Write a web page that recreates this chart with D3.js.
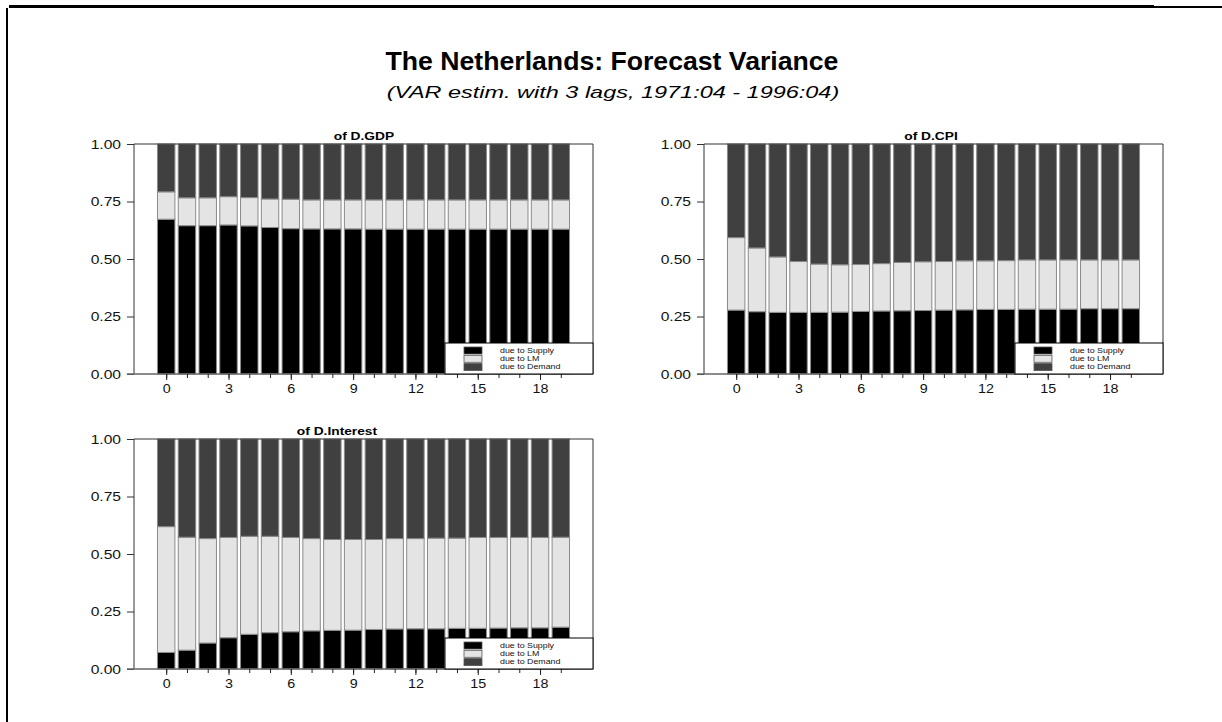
<!DOCTYPE html>
<html><head><meta charset="utf-8">
<script src="https://cdn.jsdelivr.net/npm/d3@7"></script>
<style>body{margin:0;background:#fff;} svg{display:block;font-family:"Liberation Sans",Arial,sans-serif;}</style>
</head><body>
<svg id="c" width="1222" height="722"></svg>
<script>
const horizons = d3.range(0, 20);
const yTicks = [0, 0.25, 0.5, 0.75, 1.0];
const xLabelTicks = [0, 3, 6, 9, 12, 15, 18];
const seriesNames = ["due to Supply", "due to LM", "due to Demand"];
const seriesColors = ["#000000", "#e4e4e4", "#404040"];

const gdpSupply = [0.673,0.645,0.645,0.648,0.644,0.637,0.632,0.631,0.631,0.631,0.630,0.630,0.630,0.630,0.630,0.630,0.630,0.630,0.630,0.630];
const gdpLM     = [0.119,0.121,0.121,0.123,0.123,0.124,0.128,0.126,0.126,0.126,0.127,0.127,0.127,0.127,0.127,0.127,0.127,0.127,0.127,0.127];
const gdpDemand = [0.208,0.234,0.234,0.229,0.233,0.239,0.240,0.243,0.243,0.243,0.243,0.243,0.243,0.243,0.243,0.243,0.243,0.243,0.243,0.243];

const cpiSupply = [0.278,0.271,0.268,0.268,0.268,0.269,0.272,0.274,0.275,0.276,0.278,0.279,0.281,0.281,0.282,0.282,0.282,0.284,0.284,0.284];
const cpiLM     = [0.315,0.277,0.241,0.221,0.210,0.206,0.204,0.206,0.210,0.212,0.211,0.213,0.211,0.212,0.214,0.214,0.214,0.212,0.212,0.212];
const cpiDemand = [0.407,0.452,0.491,0.511,0.522,0.525,0.524,0.520,0.515,0.512,0.511,0.508,0.508,0.507,0.504,0.504,0.504,0.504,0.504,0.504];

const intSupply = [0.072,0.082,0.113,0.136,0.151,0.158,0.162,0.166,0.168,0.169,0.172,0.174,0.175,0.175,0.177,0.177,0.178,0.179,0.179,0.182];
const intLM     = [0.547,0.491,0.454,0.436,0.426,0.419,0.410,0.401,0.395,0.394,0.391,0.393,0.392,0.394,0.392,0.395,0.394,0.393,0.393,0.391];
const intDemand = [0.381,0.427,0.433,0.428,0.423,0.423,0.428,0.433,0.437,0.437,0.437,0.433,0.433,0.431,0.431,0.428,0.428,0.428,0.428,0.427];

const panelTitles = ["of D.GDP", "of D.CPI", "of D.Interest"];

const svg = d3.select("#c");

// widen text horizontally to match the reference's wide lettering
function stretch(sel, f) {
  sel.each(function() {
    const w = this.getComputedTextLength();
    d3.select(this).attr("textLength", w * f).attr("lengthAdjust", "spacingAndGlyphs");
  });
}

// page frame
svg.append("rect").attr("x", 9).attr("y", 5).attr("width", 1145).attr("height", 3).attr("fill", "#000");
svg.append("rect").attr("x", 1154).attr("y", 6).attr("width", 68).attr("height", 2).attr("fill", "#000");
svg.append("rect").attr("x", 6).attr("y", 8).attr("width", 2).attr("height", 714).attr("fill", "#000");

const t1 = svg.append("text").attr("x", 612).attr("y", 70).attr("text-anchor", "middle")
  .attr("font-size", 25).attr("font-weight", "bold").text("The Netherlands: Forecast Variance");
stretch(t1, 1.065);
const t2 = svg.append("text").attr("x", 613).attr("y", 98).attr("text-anchor", "middle")
  .attr("font-size", 17).attr("font-style", "italic").text("(VAR estim. with 3 lags, 1971:04 - 1996:04)");
stretch(t2, 1.38);

const panels = [
  {title: panelTitles[0], s: gdpSupply, l: gdpLM, d: gdpDemand, x: 134, y: 144, tc: 364},
  {title: panelTitles[1], s: cpiSupply, l: cpiLM, d: cpiDemand, x: 704, y: 144, tc: 931},
  {title: panelTitles[2], s: intSupply, l: intLM, d: intDemand, x: 134, y: 439, tc: 337}
];
const W = 459, H = 230;

panels.forEach(p => {
  const g = svg.append("g").attr("transform", `translate(${p.x},${p.y})`);
  const x = d3.scaleLinear().domain([-1.55, 20.55]).range([0, W]);
  const y = d3.scaleLinear().domain([0, 1]).range([H, 0]);
  const bw = x(0.84) - x(0);

  const rows = horizons.map((h, i) => ({h, v: [p.s[i], p.l[i], p.d[i]]}));
  const stack = d3.stack().keys([0, 1, 2]).value((d, k) => d.v[k]);
  const layers = stack(rows);

  layers.forEach((layer, k) => {
    g.append("g").selectAll("rect").data(layer).join("rect")
      .attr("x", d => x(d.data.h) - bw / 2)
      .attr("width", bw)
      .attr("y", d => y(Math.min(1, d[1])))
      .attr("height", d => y(d[0]) - y(Math.min(1, d[1])))
      .attr("fill", seriesColors[k])
      .attr("stroke", "#8a8a8a").attr("stroke-width", 1);
  });

  // frame
  g.append("path").attr("d", `M0,${H}V0H${W}V${H}`).attr("fill", "none").attr("stroke", "#333").attr("stroke-width", 1);

  // y axis
  const ya = d3.axisLeft(y).tickValues(yTicks).tickFormat(d3.format(".2f")).tickSize(7).tickPadding(6);
  const yg = g.append("g").call(ya);
  yg.select(".domain").remove();
  yg.selectAll("text").attr("font-size", 13).attr("fill", "#111").attr("font-family", "'Liberation Sans', Arial, sans-serif");
  stretch(yg.selectAll("text"), 1.2);
  yg.selectAll("line").attr("stroke", "#333");

  // x axis
  const xg = g.append("g").attr("transform", `translate(0,${H})`);
  xg.append("line").attr("x1", -7).attr("x2", W).attr("y1", 0).attr("y2", 0).attr("stroke", "#666").attr("stroke-width", 1.5);
  const xaMinor = d3.axisBottom(x).tickValues(horizons).tickFormat("").tickSize(4);
  const xm = xg.append("g").call(xaMinor);
  xm.select(".domain").remove();
  xm.selectAll("line").attr("stroke", "#222");
  const xa = d3.axisBottom(x).tickValues(xLabelTicks).tickFormat(d3.format("d")).tickSize(6).tickPadding(4);
  const xM = xg.append("g").call(xa);
  xM.select(".domain").remove();
  xM.selectAll("line").attr("stroke", "#222");
  xM.selectAll("text").attr("font-size", 13).attr("fill", "#111").attr("font-family", "'Liberation Sans', Arial, sans-serif");
  stretch(xM.selectAll("text"), 1.1);

  // title
  const tt = g.append("text").attr("x", p.tc - p.x).attr("y", -4).attr("text-anchor", "middle")
    .attr("font-size", 11).attr("font-weight", "bold").text(p.title);
  stretch(tt, 1.25);

  // legend
  const lx = W - 148, ly = H - 31;
  const lg = g.append("g").attr("transform", `translate(${lx},${ly})`);
  lg.append("rect").attr("width", 148).attr("height", 31).attr("fill", "#fff").attr("stroke", "#000").attr("stroke-width", 1);
  seriesNames.forEach((n, k) => {
    const cy = 7.5 + k * 8.3;
    lg.append("rect").attr("x", 19).attr("y", cy - 3.5).attr("width", 18).attr("height", 7)
      .attr("fill", seriesColors[k]).attr("stroke", "#555").attr("stroke-width", 0.8);
    const lt = lg.append("text").attr("x", 55).attr("y", cy + 2.3).attr("font-size", 6.8).attr("fill", "#111").text(n);
    stretch(lt, 1.3);
  });
});
</script>
</body></html>
